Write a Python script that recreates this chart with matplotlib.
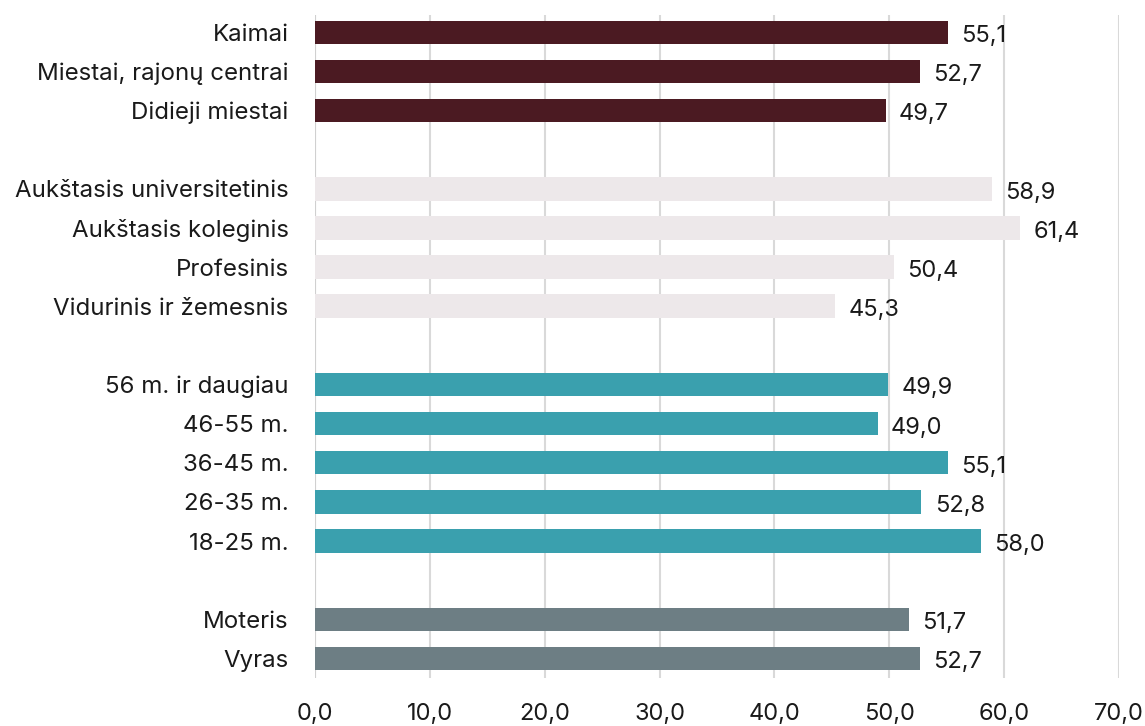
import matplotlib
matplotlib.use("Agg")
import matplotlib.pyplot as plt

plt.rcParams['font.family'] = ['Inter', 'DejaVu Sans']

group_labels = [
    ["Kaimai", "Miestai, rajonų centrai", "Didieji miestai"],
    ["Aukštasis universitetinis", "Aukštasis koleginis", "Profesinis", "Vidurinis ir žemesnis"],
    ["56 m. ir daugiau", "46-55 m.", "36-45 m.", "26-35 m.", "18-25 m."],
    ["Moteris", "Vyras"],
]
group_values = [
    [55.1, 52.7, 49.7],
    [58.9, 61.4, 50.4, 45.3],
    [49.9, 49.0, 55.1, 52.8, 58.0],
    [51.7, 52.7],
]
group_colors = ["#4b1a22", "#ede8ea", "#3aa0ae", "#6d7e84"]
x_ticks = [0, 10, 20, 30, 40, 50, 60, 70]

fig = plt.figure(figsize=(11.45, 7.26), dpi=100)
ax = fig.add_axes([0.2751, 0.0661, 0.7022, 0.9132])

pos = 0
ypos, labels, vals, cols = [], [], [], []
for g, (labs, vs) in enumerate(zip(group_labels, group_values)):
    for l, v in zip(labs, vs):
        ypos.append(pos)
        labels.append(l)
        vals.append(v)
        cols.append(group_colors[g])
        pos += 1
    pos += 1

ax.barh(ypos, vals, height=0.6, color=cols, zorder=3)
for y, v in zip(ypos, vals):
    ax.text(v + 1.15, y + 0.1, f"{v:.1f}".replace(".", ","), va="center", ha="left",
            fontsize=17, color="#1a1a1a", zorder=4)

ax.set_yticks(ypos)
ax.set_yticklabels(labels, fontsize=17.3, color="#1a1a1a")
ax.set_ylim(16.5, -0.44)
ax.set_xlim(0, 70)
ax.set_xticks(x_ticks)
ax.set_xticklabels([f"{t:.1f}".replace(".", ",") for t in x_ticks], fontsize=17,
                   color="#1a1a1a")
ax.tick_params(axis='y', length=0, pad=19)
ax.tick_params(axis='x', length=0, pad=18)
for s in ax.spines.values():
    s.set_visible(False)
ax.grid(axis='x', color="#d9d9d9", linewidth=1.5, zorder=0)
ax.axvline(0, color="#d0d0d0", linewidth=1.5, zorder=2)

fig.savefig("out.png", dpi=100)
